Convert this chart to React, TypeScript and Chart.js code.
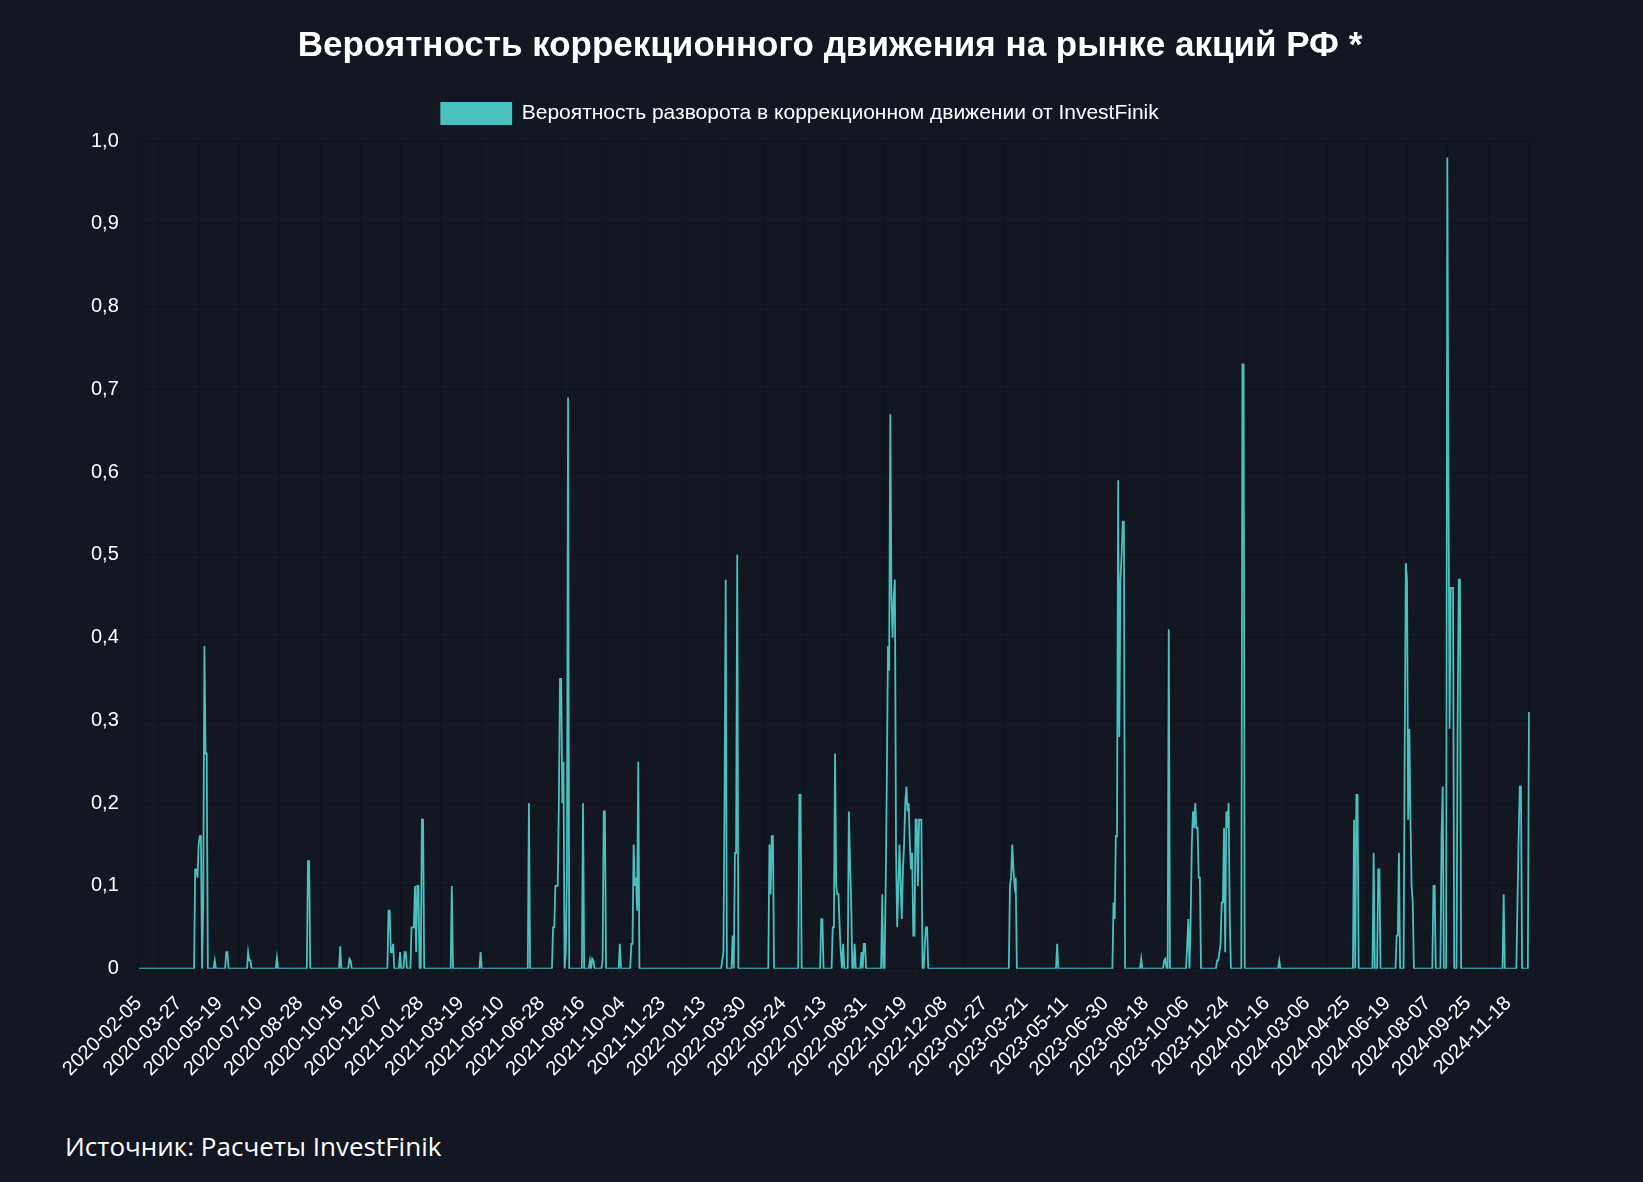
import React, { useEffect, useRef } from "react";
import { Chart, registerables } from "chart.js";

Chart.register(...registerables);

const TITLE = "Вероятность коррекционного движения на рынке акций РФ *";
const LEGEND_LABEL = "Вероятность разворота в коррекционном движении от InvestFinik";
const SOURCE_TEXT = "Источник: Расчеты InvestFinik";

// Tick labels shown on the x axis (every 35th trading day)
const TICK_LABELS = [
  "2020-02-05", "2020-03-27", "2020-05-19", "2020-07-10", "2020-08-28", "2020-10-16",
  "2020-12-07", "2021-01-28", "2021-03-19", "2021-05-10", "2021-06-28", "2021-08-16",
  "2021-10-04", "2021-11-23", "2022-01-13", "2022-03-30", "2022-05-24", "2022-07-13",
  "2022-08-31", "2022-10-19", "2022-12-08", "2023-01-27", "2023-03-21", "2023-05-11",
  "2023-06-30", "2023-08-18", "2023-10-06", "2023-11-24", "2024-01-16", "2024-03-06",
  "2024-04-25", "2024-06-19", "2024-08-07", "2024-09-25", "2024-11-18",
];
const TICK_STEP = 35;
const POINTS_AFTER_LAST_TICK = 18;

// Non-zero stretches of the series: [first point index, values...]; all other days are 0
const SPIKES: [number, number[]][] = [
  [49, [0.12, 0.12, 0.11, 0.15, 0.16, 0.16, 0, 0.08, 0.39, 0.26, 0.26]],
  [66, [0.01]],
  [76, [0.02, 0.02]],
  [95, [0.02, 0.01, 0.01]],
  [120, [0.013]],
  [147, [0.13, 0.13]],
  [175, [0.027]],
  [183, [0.012, 0.01]],
  [217, [0.07, 0.07, 0.02, 0.02, 0.03]],
  [227, [0.02]],
  [231, [0.02, 0.02]],
  [237, [0.05, 0.05, 0.05, 0.1, 0.02, 0.1, 0.1]],
  [246, [0.18, 0.18]],
  [272, [0.1]],
  [297, [0.02]],
  [339, [0.2]],
  [360, [0.05, 0.05, 0.1, 0.1, 0.1, 0.2, 0.35, 0.35, 0.2, 0.25, 0, 0.02, 0.11, 0.69]],
  [386, [0.2]],
  [392, [0.01, 0, 0.012, 0.01]],
  [403, [0.01, 0.19, 0.19]],
  [418, [0.03]],
  [428, [0.03, 0.03, 0.15, 0.1, 0.11, 0.07, 0.25]],
  [507, [0.01, 0.02, 0.21, 0.47]],
  [516, [0.04, 0, 0.14, 0.14, 0.5]],
  [548, [0.15, 0.09, 0.16, 0.16]],
  [574, [0.21, 0.21]],
  [593, [0.06, 0.06]],
  [603, [0.05, 0.05, 0.26, 0.1, 0.09, 0.09, 0.05, 0.02]],
  [612, [0.03]],
  [617, [0.19, 0.13, 0.08]],
  [622, [0.03]],
  [628, [0.02]],
  [630, [0.03, 0.03]],
  [646, [0.09]],
  [649, [0.1, 0.23, 0.39, 0.36, 0.67, 0.45, 0.4, 0.45, 0.47, 0.14, 0.05, 0.1,
         0.15, 0.1, 0.06, 0.12, 0.15, 0.2, 0.22, 0.19, 0.2, 0.15, 0.12, 0.14,
         0.04, 0.04, 0.18, 0.18, 0.1, 0.18, 0.18, 0.18]],
  [683, [0.03, 0.05, 0.05]],
  [757, [0.1, 0.11, 0.15, 0.12, 0.1, 0.11]],
  [798, [0.03]],
  [847, [0.08, 0.06, 0.16, 0.16, 0.59, 0.28, 0.47, 0.5, 0.54, 0.54]],
  [871, [0.012]],
  [891, [0.01, 0.012]],
  [895, [0.41]],
  [911, [0.03, 0.06]],
  [914, [0.06, 0.15, 0.19, 0.17, 0.2, 0.17, 0.17, 0.11, 0.11]],
  [937, [0.01, 0.01, 0.02, 0.03, 0.08, 0.08, 0.17, 0.02, 0.19, 0.17, 0.2, 0.06]],
  [959, [0.73, 0.73]],
  [991, [0.01]],
  [1056, [0.18, 0, 0.21, 0.21]],
  [1073, [0.14]],
  [1077, [0.12, 0.12]],
  [1093, [0.04, 0.04, 0.14]],
  [1100, [0.27, 0.49, 0.47, 0.18, 0.29, 0.18, 0.1, 0.08]],
  [1125, [0.1, 0.1]],
  [1132, [0.16, 0.22]],
  [1137, [0.98, 0.6, 0.29, 0.46, 0.46, 0.46]],
  [1146, [0.3, 0.47, 0.47]],
  [1186, [0.09]],
  [1198, [0.08, 0.16, 0.22, 0.22]],
  [1208, [0.31]],
];

const BG = "#131722";
const LINE_COLOR = "rgb(75, 192, 192)";
const GRID_COLOR = "rgba(0, 0, 0, 0.22)";
const TEXT_COLOR = "#ffffff";
const FONT = "'Liberation Sans', Arial, Helvetica, sans-serif";
const LEGEND_GAP = 7;

function fmt(d: Date): string {
  const m = String(d.getUTCMonth() + 1).padStart(2, "0");
  const day = String(d.getUTCDate()).padStart(2, "0");
  return `${d.getUTCFullYear()}-${m}-${day}`;
}

// Trading-day categories: each tick date followed by the next weekdays
function buildCategories(): string[] {
  const out: string[] = [];
  TICK_LABELS.forEach((t, k) => {
    const count = k < TICK_LABELS.length - 1 ? TICK_STEP : POINTS_AFTER_LAST_TICK + 1;
    const d = new Date(t + "T00:00:00Z");
    out.push(t);
    while (out.length < k * TICK_STEP + count) {
      d.setUTCDate(d.getUTCDate() + 1);
      const wd = d.getUTCDay();
      if (wd !== 0 && wd !== 6) out.push(fmt(d));
    }
  });
  return out;
}

const CATEGORIES = buildCategories();

function buildValues(n: number): number[] {
  const vals: number[] = new Array(n).fill(0);
  SPIKES.forEach(([start, run]) => {
    run.forEach((v, i) => {
      if (start + i < n) vals[start + i] = v;
    });
  });
  return vals;
}

const VALUES = buildValues(CATEGORIES.length);

// adds a little room between the legend and the plot area
const legendSpacer = {
  id: "legendSpacer",
  beforeInit(chart: any) {
    const legend = chart.legend;
    if (!legend) return;
    const origFit = legend.fit;
    legend.fit = function () {
      origFit.call(this);
      this.height += LEGEND_GAP;
    };
  },
};

export default function App() {
  const ref = useRef<HTMLCanvasElement | null>(null);

  useEffect(() => {
    if (!ref.current) return;
    const chart = new Chart(ref.current, {
      type: "line",
      data: {
        labels: CATEGORIES,
        datasets: [
          {
            label: LEGEND_LABEL,
            data: VALUES,
            borderColor: LINE_COLOR,
            backgroundColor: LINE_COLOR,
            borderWidth: 1.8,
            pointRadius: 0,
            tension: 0,
            fill: false,
          },
        ],
      },
      plugins: [legendSpacer],
      options: {
        responsive: false,
        animation: false,
        layout: { padding: { left: 71, right: 114, top: 93, bottom: 0 } },
        plugins: {
          title: { display: false },
          legend: {
            labels: {
              color: TEXT_COLOR,
              font: { family: FONT, size: 21 },
              boxWidth: 70,
              boxHeight: 21,
              padding: 10,
            },
          },
          tooltip: { enabled: false },
        },
        scales: {
          x: {
            ticks: {
              autoSkip: false,
              minRotation: 45,
              maxRotation: 45,
              color: TEXT_COLOR,
              font: { family: FONT, size: 20 },
              padding: 23,
              callback: (_v: any, i: number) =>
                i % TICK_STEP === 0 ? TICK_LABELS[i / TICK_STEP] : "",
            },
            grid: {
              offset: true,
              drawTicks: false,
              color: (ctx: any) =>
                ctx.index % TICK_STEP === 18 ? GRID_COLOR : "transparent",
            },
            border: { display: true, color: GRID_COLOR },
          },
          y: {
            min: 0,
            max: 1,
            ticks: {
              stepSize: 0.1,
              color: TEXT_COLOR,
              font: { family: FONT, size: 20 },
              padding: 20,
              callback: (v: any) => {
                const n = Number(v);
                return Math.abs(n) < 1e-9 ? "0" : n.toFixed(1).replace(".", ",");
              },
            },
            grid: { color: GRID_COLOR, drawTicks: false },
            border: { display: true, color: GRID_COLOR },
          },
        },
      },
    });
    return () => chart.destroy();
  }, []);

  return (
    <div
      style={{
        position: "absolute",
        left: 0,
        top: 0,
        width: 1643,
        height: 1182,
        background: BG,
        overflow: "hidden",
      }}
    >
      <canvas
        ref={ref}
        width={1643}
        height={1104}
        style={{ display: "block", width: 1643, height: 1104 }}
      />
      <div
        style={{
          position: "absolute",
          left: 0,
          top: 24,
          width: 1660,
          textAlign: "center",
          color: TEXT_COLOR,
          fontFamily: FONT,
          fontWeight: "bold",
          fontSize: 35,
          lineHeight: "40px",
          whiteSpace: "nowrap",
        }}
      >
        {TITLE}
      </div>
      <div
        style={{
          position: "absolute",
          left: 65,
          top: 1128,
          color: TEXT_COLOR,
          fontFamily: "'Open Sans', 'Noto Sans', sans-serif",
          fontSize: 26,
          lineHeight: "36px",
          whiteSpace: "nowrap",
        }}
      >
        {SOURCE_TEXT}
      </div>
    </div>
  );
}
